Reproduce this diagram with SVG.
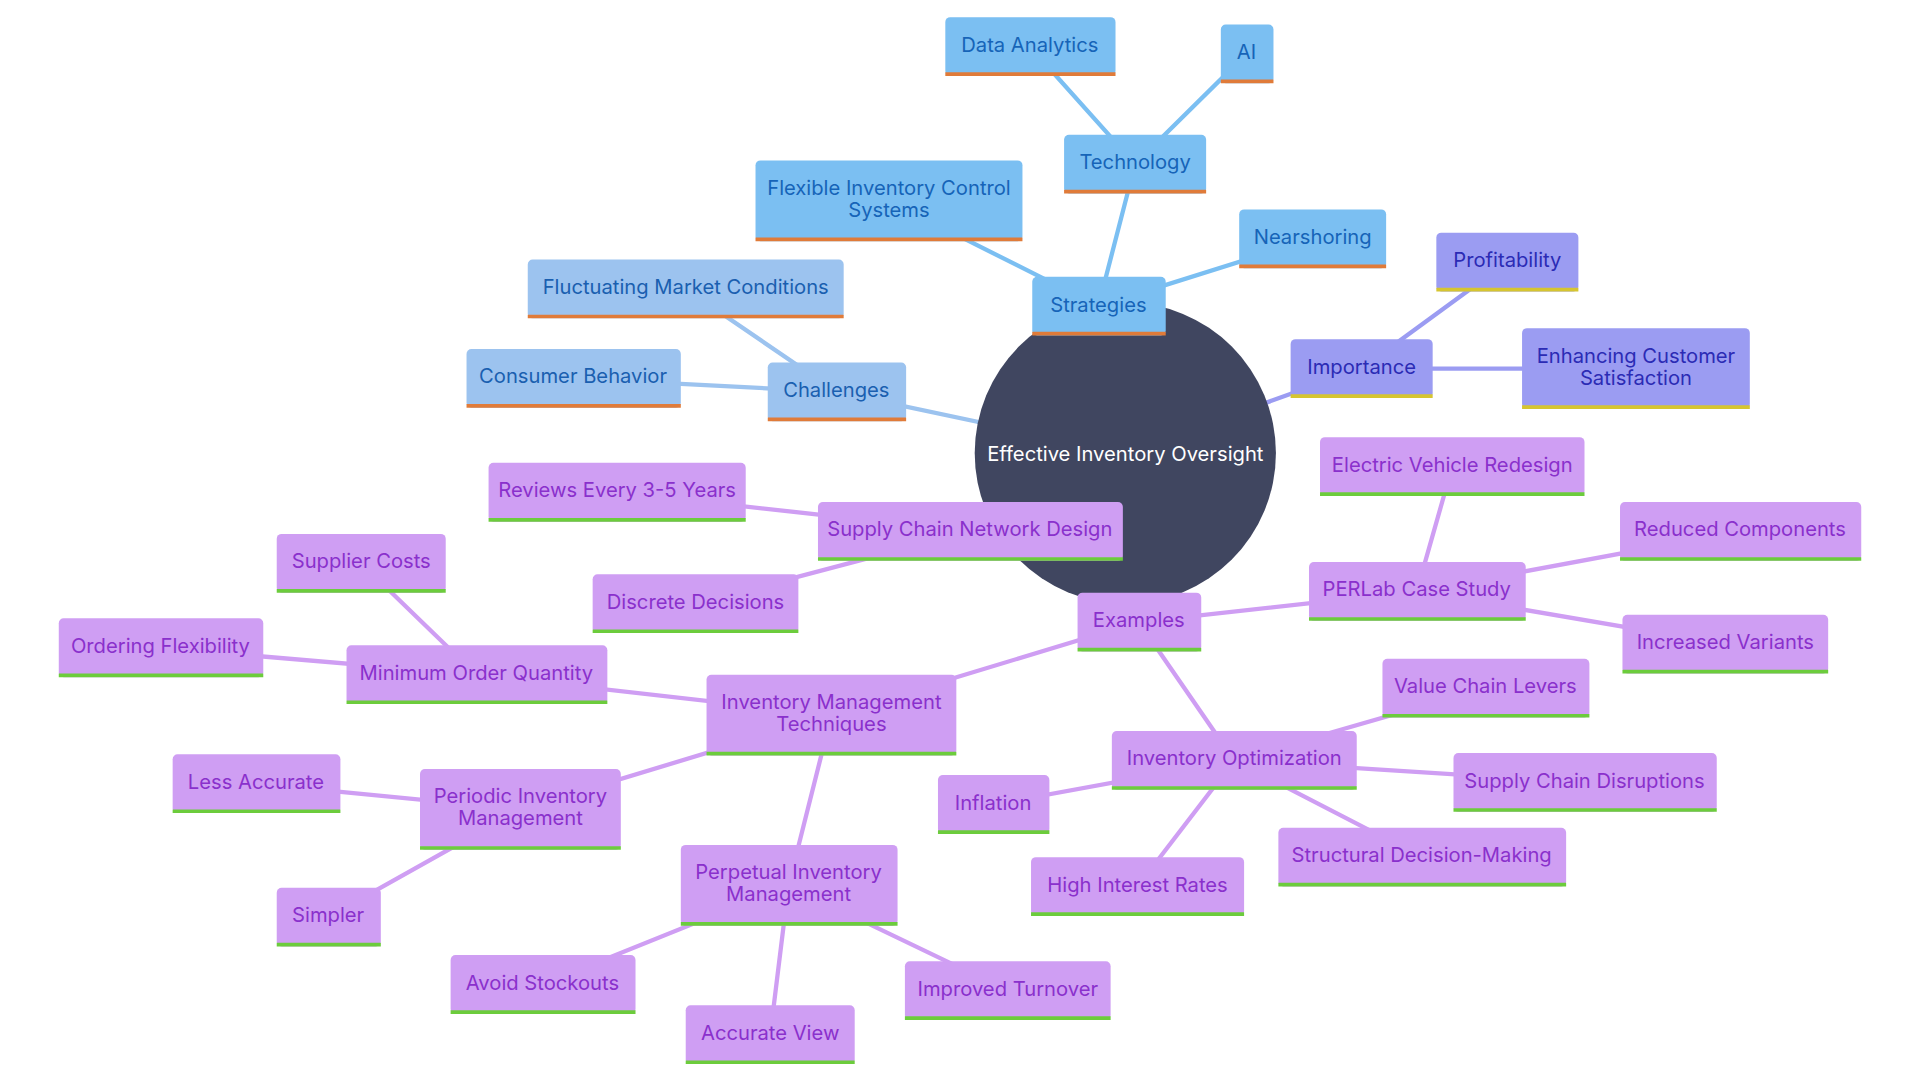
<svg xmlns="http://www.w3.org/2000/svg" width="1920" height="1080" viewBox="0 0 1920 1080">
<style>
text{font-family:Inter,"Noto Sans","Liberation Sans",sans-serif;font-size:16.5px;text-anchor:middle;dominant-baseline:central}
.s rect{fill:#7bbff2}.s line{stroke:#e07b39}.s text{fill:#1664b8}
.c rect{fill:#9cc3ef}.c line{stroke:#e07b39}.c text{fill:#1a5fb0}
.i rect{fill:#9b9cf2}.i line{stroke:#d6c530}.i text{fill:#2b2bb5}
.e rect{fill:#cf9ef3}.e line{stroke:#6ccc3c}.e text{fill:#8a30cc}
.n line{stroke-width:3}
#edges line{stroke-width:3.5;stroke-linecap:round}
.es{stroke:#7bbff2}.ec{stroke:#9cc3ef}.ei{stroke:#9b9cf2}.ee{stroke:#cf9ef3}
</style>
<rect width="1920" height="1080" fill="#fff"/>
<g transform="scale(1.2245)">
<g id="edges">
<line class="ee" x1="930" y1="508" x2="792" y2="434"/>
<line class="es" x1="919" y1="370" x2="897" y2="250"/>
<line class="ec" x1="919" y1="370" x2="683" y2="320"/>
<line class="ei" x1="919" y1="370" x2="1112" y2="301"/>
<line class="ee" x1="919" y1="370" x2="930" y2="508"/>
<line class="es" x1="897" y1="250" x2="927" y2="134"/>
<line class="es" x1="897" y1="250" x2="726" y2="164"/>
<line class="es" x1="897" y1="250" x2="1072" y2="195"/>
<line class="es" x1="927" y1="134" x2="841" y2="38"/>
<line class="es" x1="927" y1="134" x2="1018" y2="44"/>
<line class="ec" x1="683" y1="320" x2="560" y2="236"/>
<line class="ec" x1="683" y1="320" x2="468" y2="309"/>
<line class="ei" x1="1112" y1="301" x2="1231" y2="214"/>
<line class="ei" x1="1112" y1="301" x2="1336" y2="301"/>
<line class="ee" x1="930" y1="508" x2="1157" y2="483"/>
<line class="ee" x1="930" y1="508" x2="679" y2="584"/>
<line class="ee" x1="930" y1="508" x2="1008" y2="621"/>
<line class="ee" x1="1157" y1="483" x2="1186" y2="381"/>
<line class="ee" x1="1157" y1="483" x2="1421" y2="434"/>
<line class="ee" x1="1157" y1="483" x2="1409" y2="526"/>
<line class="ee" x1="792" y1="434" x2="504" y2="402"/>
<line class="ee" x1="792" y1="434" x2="568" y2="493"/>
<line class="ee" x1="679" y1="584" x2="389" y2="551"/>
<line class="ee" x1="679" y1="584" x2="425" y2="661"/>
<line class="ee" x1="679" y1="584" x2="644" y2="723"/>
<line class="ee" x1="389" y1="551" x2="295" y2="460"/>
<line class="ee" x1="389" y1="551" x2="131" y2="529"/>
<line class="ee" x1="425" y1="661" x2="209" y2="640"/>
<line class="ee" x1="425" y1="661" x2="268" y2="749"/>
<line class="ee" x1="644" y1="723" x2="443" y2="804"/>
<line class="ee" x1="644" y1="723" x2="823" y2="809"/>
<line class="ee" x1="644" y1="723" x2="629" y2="845"/>
<line class="ee" x1="1008" y1="621" x2="1213" y2="562"/>
<line class="ee" x1="1008" y1="621" x2="1294" y2="639"/>
<line class="ee" x1="1008" y1="621" x2="811" y2="657"/>
<line class="ee" x1="1008" y1="621" x2="1161" y2="700"/>
<line class="ee" x1="1008" y1="621" x2="929" y2="724"/>
</g>
<g id="center"><circle cx="919" cy="370" r="123" fill="#404660"/><text x="919" y="370" fill="#fff">Effective Inventory Oversight</text></g>
<g id="strategies" class="n s"><rect x="843" y="226" width="109" height="48" rx="4"/><line x1="843" y1="272.5" x2="952" y2="272.5"/><text x="897" y="249">Strategies</text></g>
<g id="technology" class="n s"><rect x="869" y="110" width="116" height="48" rx="4"/><line x1="869" y1="156.5" x2="985" y2="156.5"/><text x="927" y="132">Technology</text></g>
<g id="data-analytics" class="n s"><rect x="772" y="14" width="139" height="48" rx="4"/><line x1="772" y1="60.5" x2="911" y2="60.5"/><text x="841" y="36">Data Analytics</text></g>
<g id="ai" class="n s"><rect x="997" y="20" width="43" height="48" rx="4"/><line x1="997" y1="66.5" x2="1040" y2="66.5"/><text x="1018" y="42">AI</text></g>
<g id="flexible" class="n s"><rect x="617" y="131" width="218" height="66" rx="4"/><line x1="617" y1="195.5" x2="835" y2="195.5"/><text x="726" y="153">Flexible Inventory Control</text><text x="726" y="171">Systems</text></g>
<g id="nearshoring" class="n s"><rect x="1012" y="171" width="120" height="48" rx="4"/><line x1="1012" y1="217.5" x2="1132" y2="217.5"/><text x="1072" y="193">Nearshoring</text></g>
<g id="challenges" class="n c"><rect x="627" y="296" width="113" height="48" rx="4"/><line x1="627" y1="342.5" x2="740" y2="342.5"/><text x="683" y="318">Challenges</text></g>
<g id="fluctuating" class="n c"><rect x="431" y="212" width="258" height="48" rx="4"/><line x1="431" y1="258.5" x2="689" y2="258.5"/><text x="560" y="234">Fluctuating Market Conditions</text></g>
<g id="consumer" class="n c"><rect x="381" y="285" width="175" height="48" rx="4"/><line x1="381" y1="331.5" x2="556" y2="331.5"/><text x="468" y="307">Consumer Behavior</text></g>
<g id="importance" class="n i"><rect x="1054" y="277" width="116" height="48" rx="4"/><line x1="1054" y1="323.5" x2="1170" y2="323.5"/><text x="1112" y="299">Importance</text></g>
<g id="profitability" class="n i"><rect x="1173" y="190" width="116" height="48" rx="4"/><line x1="1173" y1="236.5" x2="1289" y2="236.5"/><text x="1231" y="212">Profitability</text></g>
<g id="enhancing" class="n i"><rect x="1243" y="268" width="186" height="66" rx="4"/><line x1="1243" y1="332.5" x2="1429" y2="332.5"/><text x="1336" y="290">Enhancing Customer</text><text x="1336" y="308">Satisfaction</text></g>
<g id="examples" class="n e"><rect x="880" y="484" width="101" height="48" rx="4"/><line x1="880" y1="530.5" x2="981" y2="530.5"/><text x="930" y="506">Examples</text></g>
<g id="perlab" class="n e"><rect x="1069" y="459" width="177" height="48" rx="4"/><line x1="1069" y1="505.5" x2="1246" y2="505.5"/><text x="1157" y="481">PERLab Case Study</text></g>
<g id="ev" class="n e"><rect x="1078" y="357" width="216" height="48" rx="4"/><line x1="1078" y1="403.5" x2="1294" y2="403.5"/><text x="1186" y="379">Electric Vehicle Redesign</text></g>
<g id="reduced" class="n e"><rect x="1323" y="410" width="197" height="48" rx="4"/><line x1="1323" y1="456.5" x2="1520" y2="456.5"/><text x="1421" y="432">Reduced Components</text></g>
<g id="increased" class="n e"><rect x="1325" y="502" width="168" height="48" rx="4"/><line x1="1325" y1="548.5" x2="1493" y2="548.5"/><text x="1409" y="524">Increased Variants</text></g>
<g id="scnd" class="n e"><rect x="668" y="410" width="249" height="48" rx="4"/><line x1="668" y1="456.5" x2="917" y2="456.5"/><text x="792" y="432">Supply Chain Network Design</text></g>
<g id="reviews" class="n e"><rect x="399" y="378" width="210" height="48" rx="4"/><line x1="399" y1="424.5" x2="609" y2="424.5"/><text x="504" y="400">Reviews Every 3-5 Years</text></g>
<g id="discrete" class="n e"><rect x="484" y="469" width="168" height="48" rx="4"/><line x1="484" y1="515.5" x2="652" y2="515.5"/><text x="568" y="491">Discrete Decisions</text></g>
<g id="imt" class="n e"><rect x="577" y="551" width="204" height="66" rx="4"/><line x1="577" y1="615.5" x2="781" y2="615.5"/><text x="679" y="573">Inventory Management</text><text x="679" y="591">Techniques</text></g>
<g id="moq" class="n e"><rect x="283" y="527" width="213" height="48" rx="4"/><line x1="283" y1="573.5" x2="496" y2="573.5"/><text x="389" y="549">Minimum Order Quantity</text></g>
<g id="supplier" class="n e"><rect x="226" y="436" width="138" height="48" rx="4"/><line x1="226" y1="482.5" x2="364" y2="482.5"/><text x="295" y="458">Supplier Costs</text></g>
<g id="ordering" class="n e"><rect x="48" y="505" width="167" height="48" rx="4"/><line x1="48" y1="551.5" x2="215" y2="551.5"/><text x="131" y="527">Ordering Flexibility</text></g>
<g id="periodic" class="n e"><rect x="343" y="628" width="164" height="66" rx="4"/><line x1="343" y1="692.5" x2="507" y2="692.5"/><text x="425" y="650">Periodic Inventory</text><text x="425" y="668">Management</text></g>
<g id="less" class="n e"><rect x="141" y="616" width="137" height="48" rx="4"/><line x1="141" y1="662.5" x2="278" y2="662.5"/><text x="209" y="638">Less Accurate</text></g>
<g id="simpler" class="n e"><rect x="226" y="725" width="85" height="48" rx="4"/><line x1="226" y1="771.5" x2="311" y2="771.5"/><text x="268" y="747">Simpler</text></g>
<g id="perpetual" class="n e"><rect x="556" y="690" width="177" height="66" rx="4"/><line x1="556" y1="754.5" x2="733" y2="754.5"/><text x="644" y="712">Perpetual Inventory</text><text x="644" y="730">Management</text></g>
<g id="avoid" class="n e"><rect x="368" y="780" width="151" height="48" rx="4"/><line x1="368" y1="826.5" x2="519" y2="826.5"/><text x="443" y="802">Avoid Stockouts</text></g>
<g id="improved" class="n e"><rect x="739" y="785" width="168" height="48" rx="4"/><line x1="739" y1="831.5" x2="907" y2="831.5"/><text x="823" y="807">Improved Turnover</text></g>
<g id="accurate" class="n e"><rect x="560" y="821" width="138" height="48" rx="4"/><line x1="560" y1="867.5" x2="698" y2="867.5"/><text x="629" y="843">Accurate View</text></g>
<g id="invopt" class="n e"><rect x="908" y="597" width="200" height="48" rx="4"/><line x1="908" y1="643.5" x2="1108" y2="643.5"/><text x="1008" y="619">Inventory Optimization</text></g>
<g id="value" class="n e"><rect x="1129" y="538" width="169" height="48" rx="4"/><line x1="1129" y1="584.5" x2="1298" y2="584.5"/><text x="1213" y="560">Value Chain Levers</text></g>
<g id="scd" class="n e"><rect x="1187" y="615" width="215" height="48" rx="4"/><line x1="1187" y1="661.5" x2="1402" y2="661.5"/><text x="1294" y="637">Supply Chain Disruptions</text></g>
<g id="inflation" class="n e"><rect x="766" y="633" width="91" height="48" rx="4"/><line x1="766" y1="679.5" x2="857" y2="679.5"/><text x="811" y="655">Inflation</text></g>
<g id="structural" class="n e"><rect x="1044" y="676" width="235" height="48" rx="4"/><line x1="1044" y1="722.5" x2="1279" y2="722.5"/><text x="1161" y="698">Structural Decision-Making</text></g>
<g id="interest" class="n e"><rect x="842" y="700" width="174" height="48" rx="4"/><line x1="842" y1="746.5" x2="1016" y2="746.5"/><text x="929" y="722">High Interest Rates</text></g>
</g>
</svg>
